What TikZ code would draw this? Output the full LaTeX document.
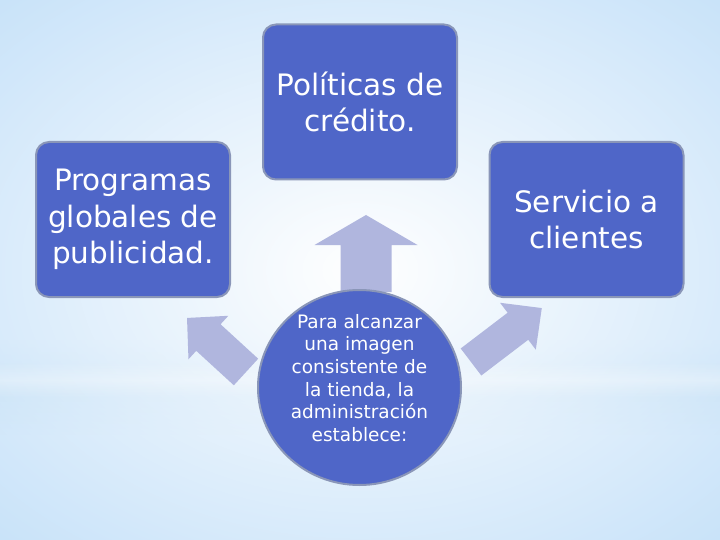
\documentclass[tikz,border=0pt]{standalone}
\usepackage{fontspec}
\setmainfont{DejaVu Sans}
\usetikzlibrary{shapes.geometric,fadings}
\definecolor{bgblue}{RGB}{168,210,246}
\definecolor{bandblue}{RGB}{150,200,240}
\definecolor{boxblue}{RGB}{79,102,200}
\definecolor{boxborder}{RGB}{138,150,184}
\definecolor{arrowfill}{RGB}{176,182,222}
\tikzfading[name=softradial, inner color=transparent!0, outer color=transparent!100]
\tikzfading[name=bandfade, top color=transparent!100, bottom color=transparent!100, middle color=transparent!30]
\tikzset{
  box/.style={draw=boxborder, line width=2pt, fill=boxblue, rounded corners=13pt,
    minimum width=194pt, minimum height=155pt, inner sep=0pt, text=white, align=center,
    font=\fontsize{29.5}{36.5}\selectfont},
  hub/.style={ellipse, draw=boxborder, line width=2pt, fill=boxblue,
    minimum width=203pt, minimum height=195pt, inner sep=0pt},
  hubtext/.style={text=white, align=center, font=\fontsize{18.5}{22.6}\selectfont},
  blockarrow/.style={fill=arrowfill, draw=none}
}
% #1 base point, #2 angle, #3 length, #4 head length, #5 shaft width, #6 head width
\newcommand{\blockarr}[6]{%
  \begin{scope}[shift={#1}, rotate=#2]
    \fill[blockarrow] (0pt,-#5/2) -- ({#3-#4},-#5/2) -- ({#3-#4},-#6/2) -- (#3,0pt)
      -- ({#3-#4},#6/2) -- ({#3-#4},#5/2) -- (0pt,#5/2) -- cycle;
  \end{scope}}
\begin{document}
\begin{tikzpicture}[x=1pt,y=-1pt]
  \useasboundingbox (0,0) rectangle (720,540);
  \begin{scope}
    \clip (0,0) rectangle (720,540);
    \fill[bgblue] (0,0) rectangle (720,540);
    \fill[bandblue, path fading=bandfade] (0,340) rectangle (720,435);
    \fill[white, path fading=softradial] (-480,-330) rectangle (1200,870);
    \fill[white, path fading=bandfade, opacity=0.45] (0,362) rectangle (720,398);
  \end{scope}

  % arrows (behind hub)
  \blockarr{(366,292)}{90}{77pt}{30pt}{51pt}{103pt}
  \blockarr{(246,372)}{137.5}{80pt}{29pt}{36pt}{59pt}
  \blockarr{(471,362)}{37.3}{89pt}{30pt}{34pt}{59pt}

  \node[box] (top) at (360,102) {Políticas de\\crédito.};
  \node[box] (left) at (133,219.5) {Programas\\globales de\\publicidad.};
  \node[box] (right) at (586.5,219.5) {Servicio a\\clientes};

  \node[hub] (hub) at (359.5,387.5) {};
  \node[hubtext] (hubt) at (359.5,378) {Para alcanzar\\una imagen\\consistente de\\la tienda, la\\administración\\establece:};
\end{tikzpicture}
\end{document}
